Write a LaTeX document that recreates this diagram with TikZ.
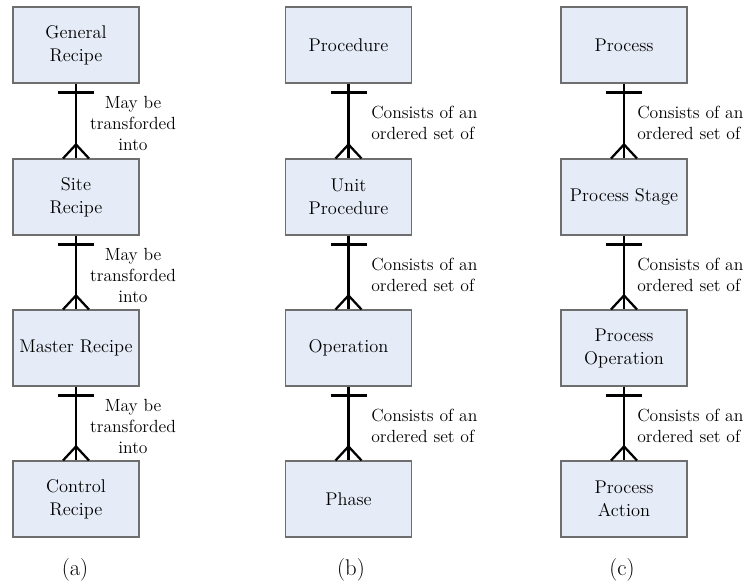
\documentclass[tikz,border=0pt]{standalone}
\usepackage{fontspec}
\usetikzlibrary{calc}
\definecolor{boxfill}{RGB}{230,236,247}
\definecolor{boxline}{RGB}{110,110,110}
\tikzset{
  entity/.style={draw=boxline, line width=0.8pt, fill=boxfill, rectangle,
    minimum width=94.5pt, minimum height=57pt, inner sep=0pt, align=center,
    font=\fontsize{13.8}{17.25}\selectfont},
  relnote/.style={align=center, inner sep=0pt, font=\fontsize{13.2}{15.75}\selectfont},
  relnoteL/.style={relnote, align=left, anchor=west},
  conn/.style={line width=1.7pt, line cap=butt},
  caption/.style={inner sep=0pt, font=\fontsize{17}{20}\selectfont}
}
% one-to-many link: bar under the upper entity, crow's foot on the lower one
\newcommand\erlink[2]{%
  \draw[conn] (#1.south) -- (#2.north);
  \draw[conn] ($(#1.south)+(-18,9)$) -- ($(#1.south)+(18,9)$);
  \draw[conn] ($(#2.north)+(-13,0)$) -- ($(#2.north)+(0,-14)$) -- ($(#2.north)+(13,0)$);
}
\begin{document}
\begin{tikzpicture}[x=0.75pt,y=-0.75pt]
\useasboundingbox (0,0) rectangle (746,582);

% (a) recipe types
\node[entity] (a1) at (76,45)  {General\\Recipe};
\node[entity] (a2) at (76,197) {Site\\Recipe};
\node[entity] (a3) at (76,348) {Master Recipe};
\node[entity] (a4) at (76,499) {Control\\Recipe};
\erlink{a1}{a2}
\erlink{a2}{a3}
\erlink{a3}{a4}
\node[relnote] (ta1) at (133,123) {May be\\transforded\\into};
\node[relnote] (ta2) at (133,275) {May be\\transforded\\into};
\node[relnote] (ta3) at (133,426) {May be\\transforded\\into};
\node[caption] (ca) at (75,570) {(a)};

% (b) procedural control model
\node[entity] (b1) at (348.5,45)  {Procedure};
\node[entity] (b2) at (348.5,197) {Unit\\Procedure};
\node[entity] (b3) at (348.5,348) {Operation};
\node[entity] (b4) at (348.5,499) {Phase};
\erlink{b1}{b2}
\erlink{b2}{b3}
\erlink{b3}{b4}
\node[relnoteL] (tb1) at (371,123) {Consists of an\\ordered set of};
\node[relnoteL] (tb2) at (371,275) {Consists of an\\ordered set of};
\node[relnoteL] (tb3) at (371,426) {Consists of an\\ordered set of};
\node[caption] (cb) at (351,570) {(b)};

% (c) process model
\node[entity] (c1) at (624,45)  {Process};
\node[entity] (c2) at (624,197) {Process Stage};
\node[entity] (c3) at (624,348) {Process\\Operation};
\node[entity] (c4) at (624,499) {Process\\Action};
\erlink{c1}{c2}
\erlink{c2}{c3}
\erlink{c3}{c4}
\node[relnoteL] (tc1) at (637,123) {Consists of an\\ordered set of};
\node[relnoteL] (tc2) at (637,275) {Consists of an\\ordered set of};
\node[relnoteL] (tc3) at (637,426) {Consists of an\\ordered set of};
\node[caption] (cc) at (622,570) {(c)};
\end{tikzpicture}
\end{document}
